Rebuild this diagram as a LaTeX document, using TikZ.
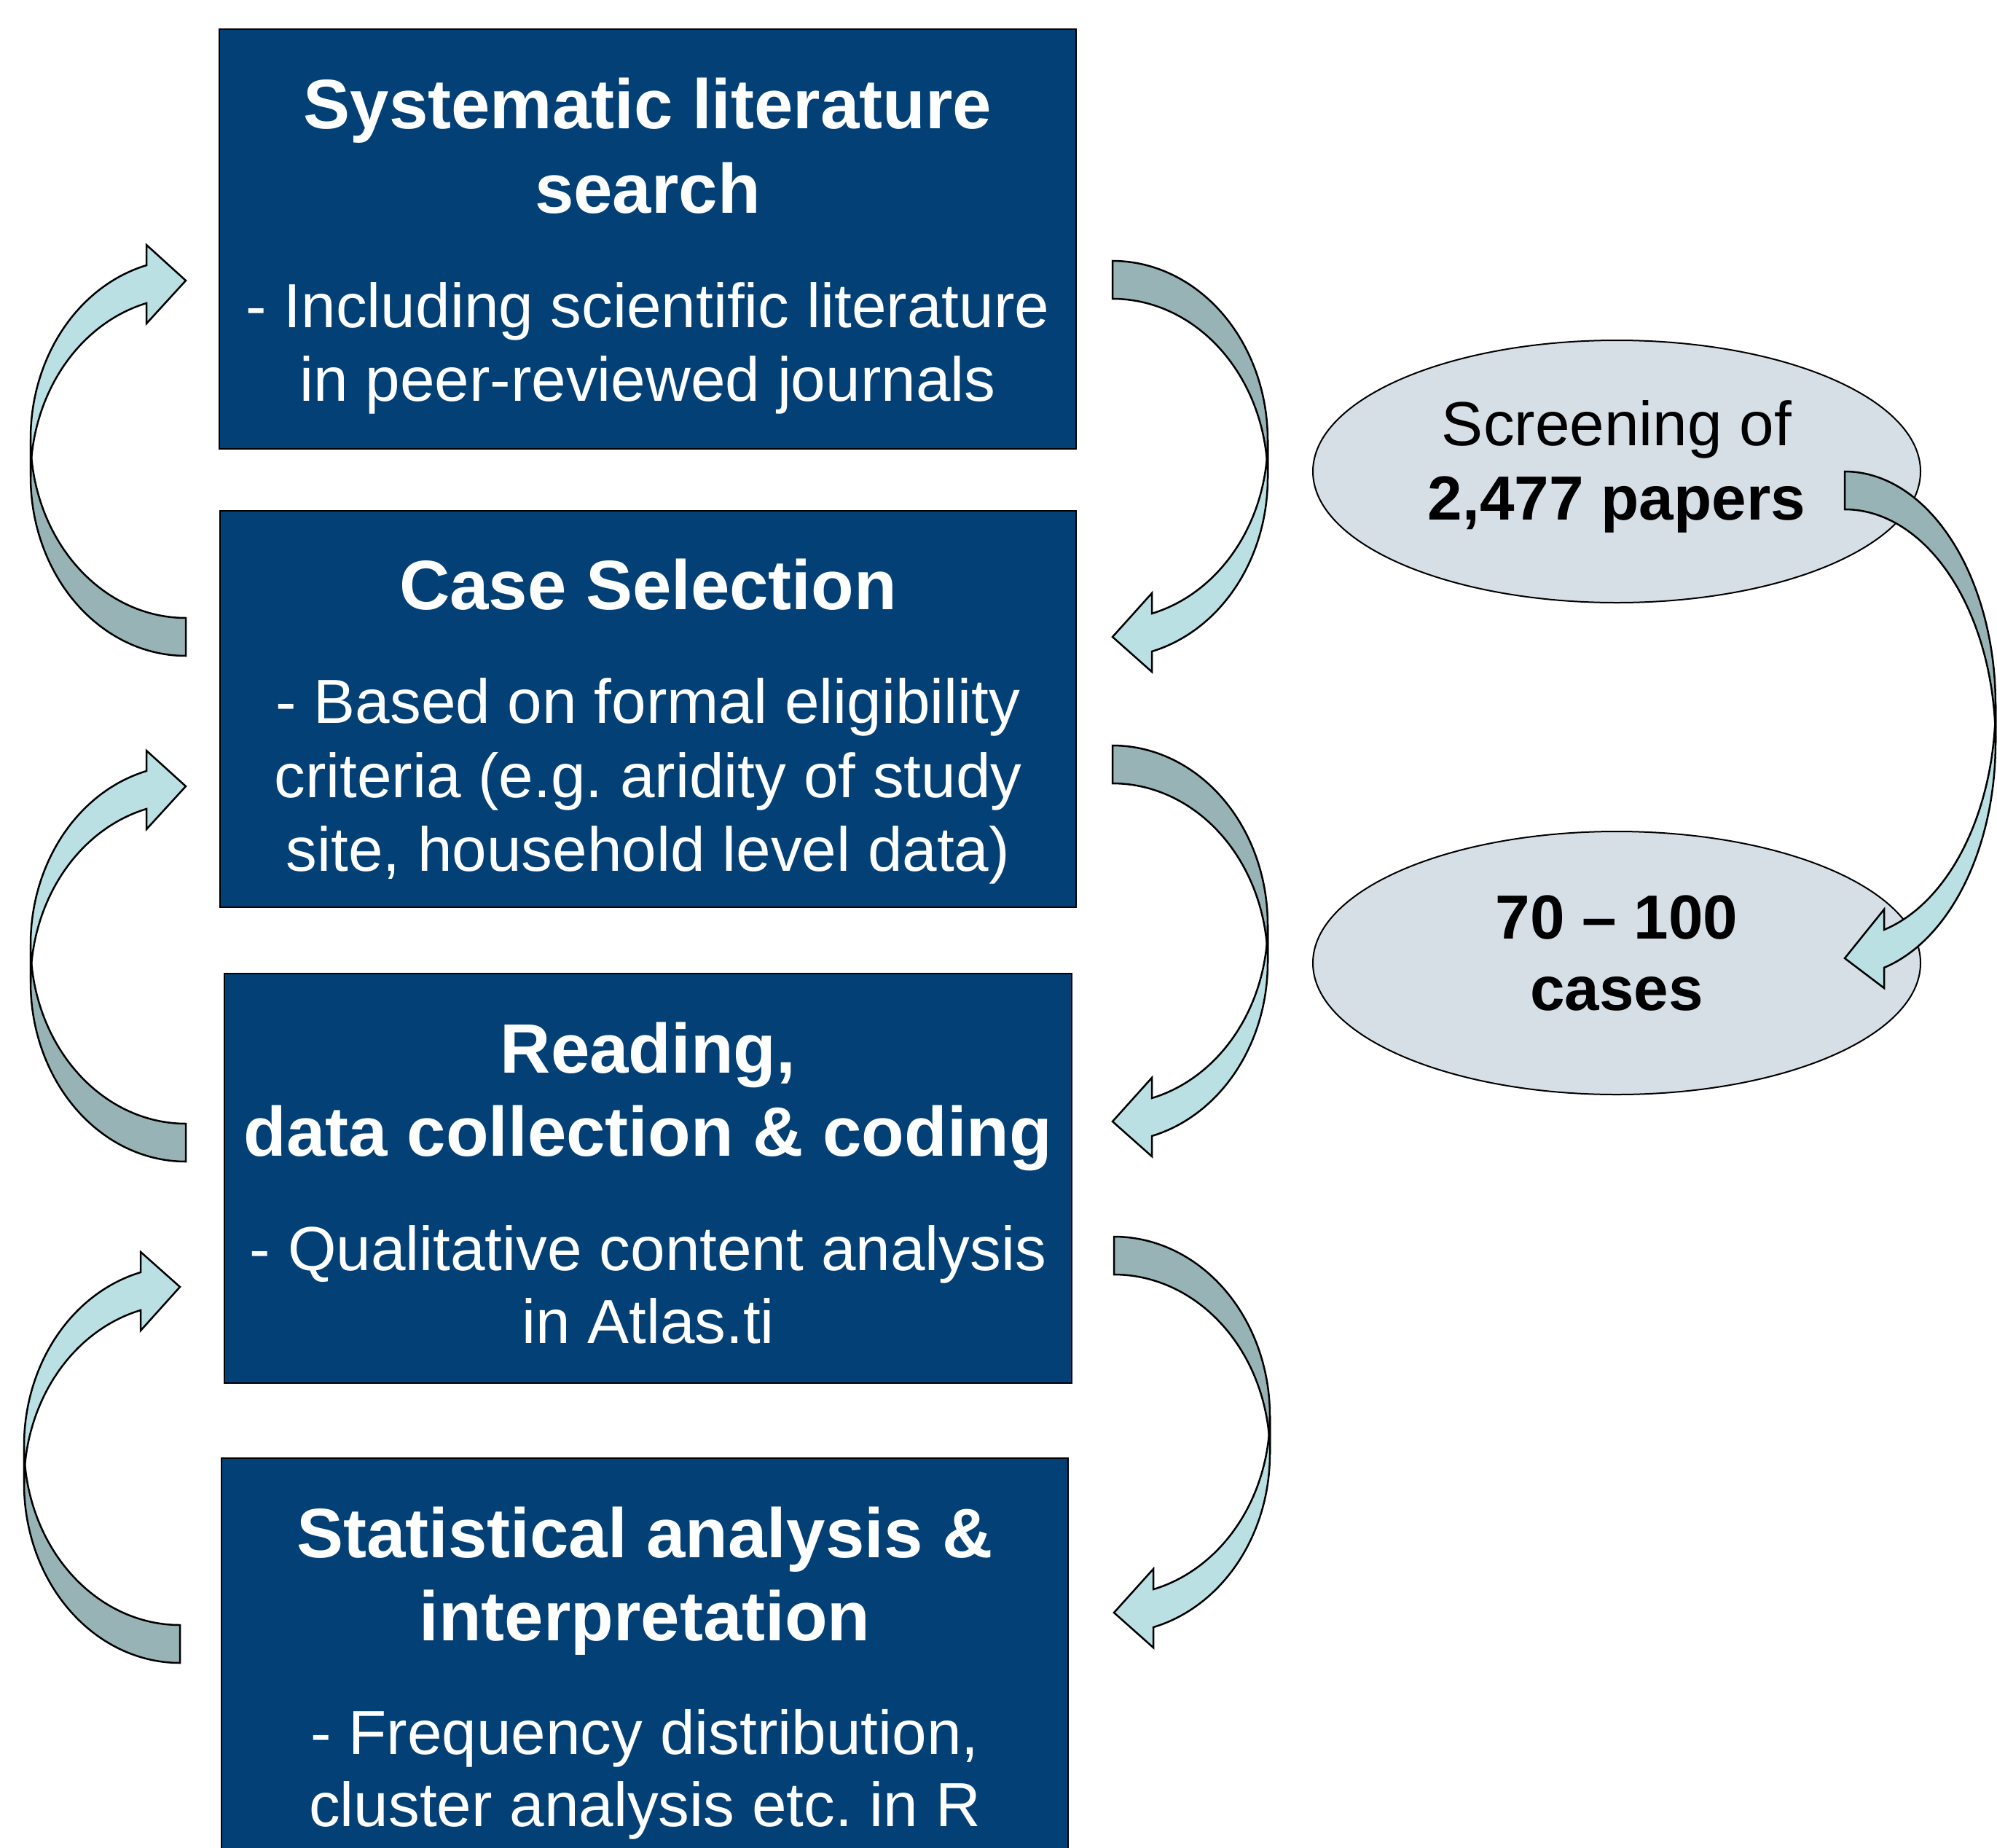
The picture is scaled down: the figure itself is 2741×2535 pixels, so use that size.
\documentclass[tikz,border=0pt]{standalone}
\usepackage{fontspec}
\setmainfont{Liberation Sans}
\usetikzlibrary{shapes.geometric}
\frenchspacing

\definecolor{boxblue}{RGB}{2,64,118}
\definecolor{ovalgrey}{RGB}{214,222,230}
\definecolor{bandback}{RGB}{151,179,181}
\definecolor{bandfront}{RGB}{186,224,228}

% Twisted ribbon arrow: two congruent half-ellipses offset by the band width.
% #1,#2 centre of the twist, #3 rotation, #4 horizontal radius,
% #5 vertical radius, #6 offset of the arrow tip from the centre
\newcommand{\twistarrow}[6]{%
  \begin{scope}[shift={(#1,#2)}, rotate=#3]
    \pgfmathsetmacro{\headang}{360-acos(-54/#4)}
    \pgfmathsetmacro{\headrise}{#5*sin(\headang)}
    % back half (tail)
    \filldraw[bandline, fill=bandback]
      plot[domain=90:180, samples=60] ({#4*cos(\x)},{26+#5*sin(\x)})
      -- plot[domain=180:90, samples=60] ({#4*cos(\x)},{-26+#5*sin(\x)})
      -- cycle;
    % front half with the head
    \filldraw[bandline, fill=bandfront]
      plot[domain=180:\headang, samples=60] ({#4*cos(\x)},{-26+#5*sin(\x)})
      -- (-54,{-26+\headrise-28}) -- (0,#6) -- (-54,{26+\headrise+28})
      -- plot[domain=\headang:180, samples=60] ({#4*cos(\x)},{26+#5*sin(\x)})
      -- cycle;
  \end{scope}}

\begin{document}
\begin{tikzpicture}[x=1pt, y=-1pt,
  stage/.style={draw=black, line width=2pt, fill=boxblue, rectangle, inner sep=0pt},
  oval/.style={draw=black, line width=2pt, fill=ovalgrey, ellipse, inner sep=0pt},
  headline/.style={anchor=base, text=white, inner sep=0pt,
    font=\fontsize{96}{116}\selectfont\bfseries},
  detail/.style={anchor=base, text=white, inner sep=0pt,
    font=\fontsize{85.5}{101}\selectfont},
  ovaltext/.style={anchor=base, text=black, inner sep=0pt,
    font=\fontsize{85.5}{101}\selectfont},
  ovalbold/.style={anchor=base, text=black, inner sep=0pt,
    font=\fontsize{85.5}{101}\selectfont\bfseries},
  bandline/.style={draw=black, line width=2.5pt}]

\useasboundingbox (0,0) rectangle (2741,2535);
\clip (0,0) rectangle (2741,2535);
\fill[white] (0,0) rectangle (2741,2535);

% ---- process stages ----
\node[stage, minimum width=1176, minimum height=576] (search) at (889,328) {};
\node[headline] (searchA) at (889,176) {Systematic literature};
\node[headline] (searchB) at (889,292) {search};
\node[detail]   (searchC) at (889,449) {- Including scientific literature};
\node[detail]   (searchD) at (889,550) {in peer-reviewed journals};

\node[stage, minimum width=1175, minimum height=544] (select) at (889.5,973) {};
\node[headline] (selectA) at (889.5,836) {Case Selection};
\node[detail]   (selectB) at (889.5,992) {- Based on formal eligibility};
\node[detail]   (selectC) at (889.5,1094) {criteria (e.g. aridity of study};
\node[detail]   (selectD) at (889.5,1195) {site, household level data)};

\node[stage, minimum width=1163, minimum height=562] (coding) at (889.5,1616.5) {};
\node[headline] (codingA) at (889.5,1472) {Reading,};
\node[headline] (codingB) at (889.5,1586) {data collection \& coding};
\node[detail]   (codingC) at (889.5,1743) {- Qualitative content analysis};
\node[detail]   (codingD) at (889.5,1843) {in Atlas.ti};

\node[stage, minimum width=1162, minimum height=600] (stats) at (885,2301) {};
\node[headline] (statsA) at (885,2137) {Statistical analysis \&};
\node[headline] (statsB) at (885,2251) {interpretation};
\node[detail]   (statsC) at (885,2407) {- Frequency distribution,};
\node[detail]   (statsD) at (885,2506) {cluster analysis etc. in R};

% ---- feedback loops on the left ----
\twistarrow{255}{628}{0}{213}{246}{-243}
\twistarrow{255}{1322}{0}{213}{246}{-243}
\twistarrow{247}{2010}{0}{214}{246}{-244}

% ---- forward steps on the right ----
\twistarrow{1527}{630}{180}{213}{246}{-244}
\twistarrow{1527}{1295}{180}{213}{246}{-244}
\twistarrow{1529}{1969}{180}{214}{246}{-244}

% ---- screening ----
\node[oval, minimum width=834, minimum height=360] (papers) at (2219,647) {};
\node[ovaltext] (papersA) at (2219,611) {Screening of};
\node[ovalbold] (papersB) at (2219,713) {2,477 papers};

\node[oval, minimum width=834, minimum height=361] (cases) at (2219,1321.5) {};
\node[ovalbold] (casesA) at (2219,1288) {70 – 100};
\node[ovalbold] (casesB) at (2219,1386) {cases};

\twistarrow{2532}{993}{180}{207}{320}{-322}

\end{tikzpicture}
\end{document}
